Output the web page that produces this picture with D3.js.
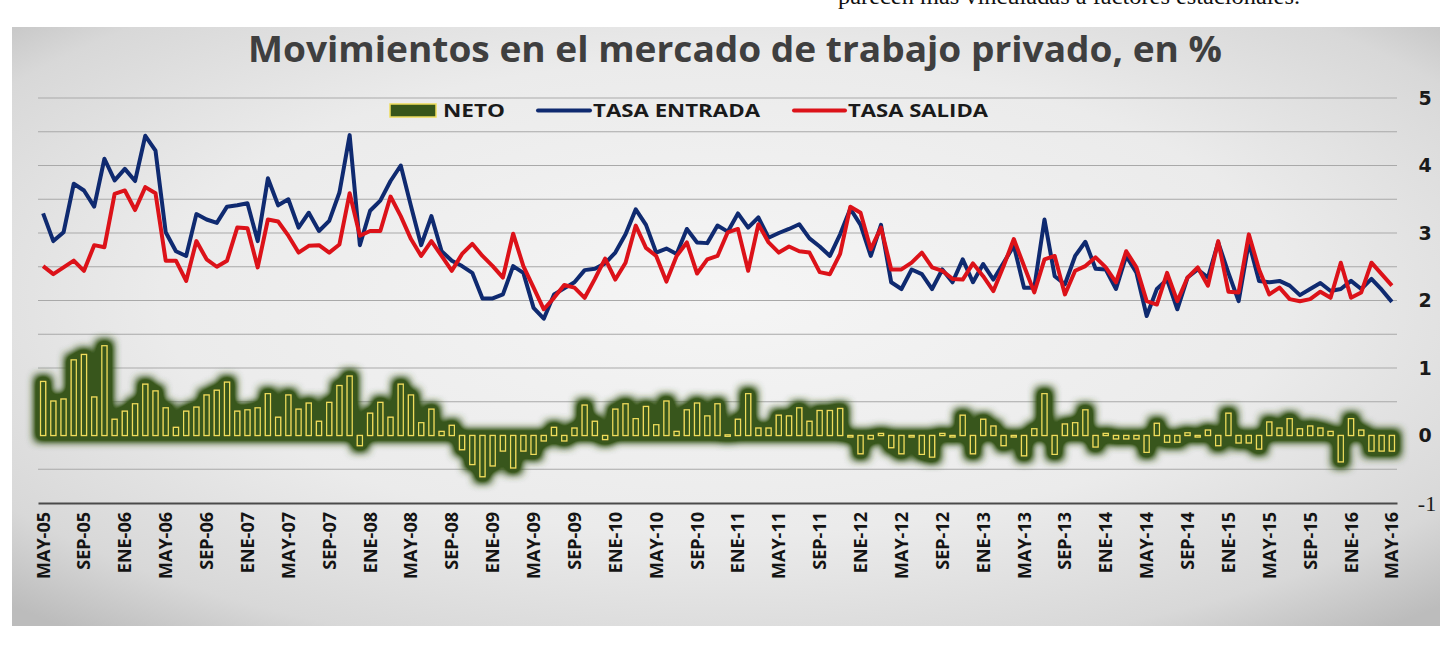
<!DOCTYPE html>
<html>
<head>
<meta charset="utf-8">
<script src="https://cdn.jsdelivr.net/npm/d3@7"></script>
<style>
  body { margin: 0; background: #fff; }
  svg { display: block; }
</style>
</head>
<body>
<div id="chart"></div>
<script>
// Meses (abreviaturas) y rango MAY-05 .. MAY-16
const meses = ["ENE","FEB","MAR","ABR","MAY","JUN","JUL","AGO","SEP","OCT","NOV","DIC"];
const nMeses = 133;

const tickLabels = ["MAY-05","SEP-05","ENE-06","MAY-06","SEP-06","ENE-07","MAY-07","SEP-07",
    "ENE-08","MAY-08","SEP-08","ENE-09","MAY-09","SEP-09","ENE-10","MAY-10","SEP-10",
    "ENE-11","MAY-11","SEP-11","ENE-12","MAY-12","SEP-12","ENE-13","MAY-13","SEP-13",
    "ENE-14","MAY-14","SEP-14","ENE-15","MAY-15","SEP-15","ENE-16","MAY-16"];

const yTicks = [-1, 0, 1, 2, 3, 4, 5];

const tasaEntrada = [
    3.29, 2.88, 3.01, 3.73, 3.63, 3.39, 4.10, 3.78, 3.95, 3.77,
    4.44, 4.22, 3.01, 2.73, 2.66, 3.28, 3.20, 3.15, 3.39, 3.41,
    3.44, 2.88, 3.81, 3.41, 3.50, 3.08, 3.30, 3.03, 3.18, 3.60,
    4.45, 2.82, 3.33, 3.48, 3.77, 4.00, 3.40, 2.82, 3.25, 2.73,
    2.59, 2.51, 2.41, 2.03, 2.03, 2.09, 2.51, 2.41, 1.89, 1.73,
    2.09, 2.18, 2.27, 2.45, 2.47, 2.55, 2.71, 2.98, 3.35, 3.12,
    2.71, 2.77, 2.69, 3.06, 2.86, 2.85, 3.11, 3.02, 3.29, 3.08,
    3.23, 2.93, 3.00, 3.06, 3.13, 2.92, 2.80, 2.66, 2.98, 3.36,
    3.12, 2.66, 3.12, 2.27, 2.17, 2.46, 2.39, 2.17, 2.46, 2.27,
    2.61, 2.27, 2.54, 2.31, 2.56, 2.81, 2.19, 2.19, 3.20, 2.36,
    2.24, 2.66, 2.87, 2.47, 2.46, 2.17, 2.66, 2.41, 1.77, 2.17,
    2.31, 1.87, 2.34, 2.46, 2.34, 2.86, 2.41, 1.99, 2.86, 2.29,
    2.27, 2.29, 2.22, 2.08, 2.17, 2.26, 2.14, 2.17, 2.29, 2.17,
    2.32, 2.16, 1.98
];

const tasaSalida = [
    2.51, 2.39, 2.49, 2.59, 2.44, 2.82, 2.79, 3.58, 3.63, 3.34,
    3.68, 3.59, 2.59, 2.59, 2.29, 2.88, 2.61, 2.50, 2.59, 3.08,
    3.07, 2.49, 3.20, 3.17, 2.96, 2.71, 2.81, 2.82, 2.71, 2.83,
    3.59, 2.96, 3.03, 3.03, 3.54, 3.25, 2.91, 2.66, 2.88, 2.66,
    2.44, 2.69, 2.84, 2.66, 2.51, 2.34, 2.99, 2.51, 2.19, 1.87,
    2.04, 2.23, 2.19, 2.04, 2.32, 2.62, 2.31, 2.56, 3.11, 2.78,
    2.66, 2.28, 2.66, 2.86, 2.40, 2.61, 2.66, 3.01, 3.06, 2.44,
    3.13, 2.86, 2.71, 2.80, 2.73, 2.71, 2.42, 2.39, 2.69, 3.39,
    3.30, 2.76, 3.08, 2.46, 2.46, 2.56, 2.71, 2.49, 2.44, 2.32,
    2.31, 2.55, 2.36, 2.14, 2.51, 2.91, 2.51, 2.12, 2.61, 2.66,
    2.09, 2.44, 2.51, 2.64, 2.49, 2.27, 2.73, 2.49, 1.99, 1.94,
    2.41, 1.99, 2.34, 2.49, 2.22, 2.88, 2.13, 2.12, 2.98, 2.46,
    2.09, 2.19, 2.02, 1.99, 2.02, 2.13, 2.04, 2.56, 2.04, 2.12,
    2.56, 2.39, 2.22
];

const neto = [
    0.80, 0.51, 0.54, 1.12, 1.20, 0.57, 1.33, 0.24, 0.36, 0.47,
    0.76, 0.66, 0.41, 0.12, 0.36, 0.42, 0.60, 0.67, 0.79, 0.36,
    0.38, 0.41, 0.62, 0.27, 0.60, 0.39, 0.48, 0.21, 0.49, 0.74,
    0.88, -0.15, 0.33, 0.49, 0.27, 0.76, 0.60, 0.19, 0.39, 0.06,
    0.15, -0.21, -0.43, -0.61, -0.45, -0.23, -0.48, -0.23, -0.28, -0.08,
    0.12, -0.08, 0.11, 0.45, 0.21, -0.06, 0.39, 0.47, 0.25, 0.43,
    0.16, 0.51, 0.06, 0.38, 0.48, 0.29, 0.47, 0.01, 0.24, 0.62,
    0.11, 0.11, 0.30, 0.29, 0.41, 0.21, 0.37, 0.37, 0.40, -0.02,
    -0.27, -0.05, 0.03, -0.18, -0.27, -0.01, -0.28, -0.32, 0.03, -0.02,
    0.30, -0.27, 0.24, 0.14, -0.15, -0.01, -0.30, 0.10, 0.62, -0.28,
    0.17, 0.19, 0.38, -0.17, 0.03, -0.05, -0.05, -0.05, -0.25, 0.18,
    -0.10, -0.10, 0.04, 0.00, 0.08, -0.15, 0.33, -0.11, -0.11, -0.20,
    0.20, 0.11, 0.25, 0.10, 0.14, 0.11, 0.06, -0.39, 0.25, 0.08,
    -0.23, -0.23, -0.23
];

const categories = d3.range(nMeses).map(i => {
    const m = 4 + i;
    return meses[m % 12] + "-" + String(5 + Math.floor(m / 12)).padStart(2, "0");
});

const navy = "#0f2a70";
const red = "#dc1219";
const glowGreen = "#37561a";
const barYellow = "#eedd5c";

const width = 1451;
const height = 646;

const svg = d3.select("#chart")
    .append("svg")
    .attr("width", width)
    .attr("height", height);

const defs = svg.append("defs");

const grad = defs.append("radialGradient")
    .attr("id", "bg")
    .attr("cx", "50%").attr("cy", "45%").attr("r", "72%");
grad.append("stop").attr("offset", "0%").attr("stop-color", "#f5f5f5");
grad.append("stop").attr("offset", "55%").attr("stop-color", "#ebebeb");
grad.append("stop").attr("offset", "85%").attr("stop-color", "#d8d8d8");
grad.append("stop").attr("offset", "100%").attr("stop-color", "#bcbcbc");

// glow verde alrededor de las barras
const glow = defs.append("filter")
    .attr("id", "glow")
    .attr("x", "-5%").attr("y", "-40%")
    .attr("width", "110%").attr("height", "180%");
glow.append("feMorphology")
    .attr("in", "SourceAlpha").attr("operator", "dilate").attr("radius", 5).attr("result", "d");
glow.append("feGaussianBlur")
    .attr("in", "d").attr("stdDeviation", 4).attr("result", "b");
const ct = glow.append("feComponentTransfer").attr("in", "b").attr("result", "b2");
ct.append("feFuncA").attr("type", "linear").attr("slope", 1.7);
glow.append("feFlood").attr("flood-color", glowGreen);
glow.append("feComposite").attr("in2", "b2").attr("operator", "in").attr("result", "g");
const merge = glow.append("feMerge");
merge.append("feMergeNode").attr("in", "g");
merge.append("feMergeNode").attr("in", "SourceGraphic");

// texto cortado del documento, arriba
svg.append("text")
    .attr("x", 838)
    .attr("y", 4)
    .attr("textLength", 462)
    .attr("lengthAdjust", "spacingAndGlyphs")
    .style("font-family", "'Liberation Serif', serif")
    .style("font-size", "23px")
    .style("fill", "#111")
    .text("parecen más vinculadas a factores estacionales.");

svg.append("rect")
    .attr("x", 12).attr("y", 27)
    .attr("width", 1428).attr("height", 599)
    .attr("fill", "url(#bg)");

const xScale = d3.scaleBand()
    .domain(categories)
    .range([38, 1397])
    .paddingInner(0.5)
    .paddingOuter(0.25);

const yScale = d3.scaleLinear()
    .domain([-1, 5])
    .range([503, 98]);

const cx = d => xScale(d) + xScale.bandwidth() / 2;

// líneas de cuadrícula cada 0.5
svg.append("g")
    .selectAll("line")
    .data(d3.range(-0.5, 5.01, 0.5))
    .enter().append("line")
    .attr("x1", 38).attr("x2", 1397)
    .attr("y1", d => yScale(d)).attr("y2", d => yScale(d))
    .attr("stroke", "#a9a9a9")
    .attr("stroke-width", 1.2);

// eje X
const xAxis = svg.append("g")
    .attr("transform", "translate(0," + yScale(-1) + ")")
    .call(d3.axisBottom(xScale)
        .tickValues(tickLabels)
        .tickSize(0)
        .tickSizeOuter(0));
xAxis.select(".domain")
    .attr("stroke", "#4a4a4a")
    .attr("stroke-width", 2.2);
xAxis.selectAll("text")
    .attr("transform", "translate(0,9) rotate(-90)")
    .attr("x", 0)
    .attr("y", 0)
    .attr("dy", "0.36em")
    .style("text-anchor", "end")
    .style("font-family", "'Open Sans', sans-serif")
    .style("font-weight", "bold")
    .style("font-size", "18px")
    .style("fill", "#141414");

// eje Y a la derecha
const yAxis = svg.append("g")
    .attr("transform", "translate(1425,0)")
    .call(d3.axisRight(yScale)
        .tickValues(yTicks)
        .tickSize(0)
        .tickPadding(0)
        .tickFormat(d3.format("d")));
yAxis.select(".domain").remove();
yAxis.selectAll("text")
    .style("text-anchor", "middle")
    .style("font-family", "'DejaVu Sans', sans-serif")
    .style("font-weight", "bold")
    .style("font-size", "19px")
    .style("fill", "#1a1a1a");
yAxis.selectAll("text")
    .filter(d => d === -1)
    .attr("x", 2)
    .style("font-family", "'Liberation Serif', serif")
    .style("font-weight", "normal")
    .style("font-size", "22px")
    .text("-1");

// barras NETO con brillo verde
svg.append("g")
    .attr("filter", "url(#glow)")
    .selectAll("rect")
    .data(neto)
    .enter().append("rect")
    .attr("x", (d, i) => xScale(categories[i]))
    .attr("width", xScale.bandwidth())
    .attr("y", d => yScale(Math.max(0, d)))
    .attr("height", d => Math.max(1.5, Math.abs(yScale(d) - yScale(0))))
    .attr("fill", glowGreen)
    .attr("stroke", barYellow)
    .attr("stroke-width", 1.2);

// líneas
const line = d3.line()
    .x((d, i) => cx(categories[i]))
    .y(d => yScale(d));

svg.append("path")
    .datum(tasaEntrada)
    .attr("d", line)
    .attr("fill", "none")
    .attr("stroke", navy)
    .attr("stroke-width", 4)
    .attr("stroke-linejoin", "round");

svg.append("path")
    .datum(tasaSalida)
    .attr("d", line)
    .attr("fill", "none")
    .attr("stroke", red)
    .attr("stroke-width", 4)
    .attr("stroke-linejoin", "round");

// título
svg.append("text")
    .attr("x", 735)
    .attr("y", 62)
    .attr("text-anchor", "middle")
    .attr("textLength", 974)
    .attr("lengthAdjust", "spacingAndGlyphs")
    .style("font-family", "'Open Sans', sans-serif")
    .style("font-weight", "bold")
    .style("font-size", "35px")
    .style("fill", "#3f3f3f")
    .text("Movimientos en el mercado de trabajo privado, en %");

// leyenda
const legend = svg.append("g").attr("class", "legend");
legend.append("rect")
    .attr("x", 390).attr("y", 104)
    .attr("width", 46).attr("height", 13)
    .attr("fill", glowGreen)
    .attr("stroke", barYellow)
    .attr("stroke-width", 1.5);
legend.append("line")
    .attr("x1", 538).attr("x2", 590)
    .attr("y1", 110.5).attr("y2", 110.5)
    .attr("stroke", navy).attr("stroke-width", 4)
    .attr("stroke-linecap", "round");
legend.append("line")
    .attr("x1", 794).attr("x2", 845)
    .attr("y1", 110.5).attr("y2", 110.5)
    .attr("stroke", red).attr("stroke-width", 4)
    .attr("stroke-linecap", "round");

const legendItems = [
    { label: "NETO", x: 443, w: 62 },
    { label: "TASA ENTRADA", x: 593, w: 167 },
    { label: "TASA SALIDA", x: 848, w: 140 }
];
legend.selectAll("text")
    .data(legendItems)
    .enter().append("text")
    .attr("x", d => d.x)
    .attr("y", 117)
    .attr("textLength", d => d.w)
    .attr("lengthAdjust", "spacingAndGlyphs")
    .style("font-family", "'Open Sans', sans-serif")
    .style("font-weight", "bold")
    .style("font-size", "18px")
    .style("fill", "#1a1a1a")
    .text(d => d.label);
</script>
</body>
</html>
